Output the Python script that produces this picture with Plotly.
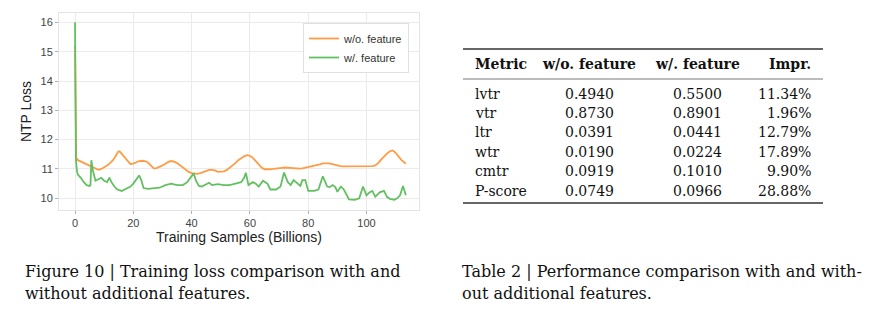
import plotly.graph_objects as go

W, H = 893, 323

# Training loss curves (x in billions of samples)
wo_x = [0, 0.4, 1, 2, 3, 4, 5, 6, 7, 8, 9, 10, 11, 12, 13, 14, 14.7, 15.3, 16, 17, 18, 19, 20, 21, 22, 23,
        24, 25, 26, 27, 28, 29, 30, 31, 32, 33, 34, 35, 36, 37, 38, 39, 40, 41, 42, 43, 44, 45, 46, 47, 48,
        49, 50, 51, 52, 53, 54, 55, 56, 57, 58, 59, 60, 61, 62, 63, 64, 65, 66, 67, 68, 69, 70, 71, 72,
        73, 74, 75, 76, 77, 78, 79, 80, 81, 82, 83, 84, 85, 86, 87, 88, 89, 90, 91, 92, 93, 94, 95, 96,
        97, 98, 99, 100, 101, 102, 103, 104, 105, 106, 107, 108, 109, 110, 111, 112, 113, 113.5]
wo_y = [15.2, 11.38, 11.3, 11.25, 11.2, 11.15, 11.1, 11.05, 11.0, 10.97, 11.0, 11.05, 11.12, 11.2, 11.3,
        11.45, 11.58, 11.6, 11.52, 11.4, 11.28, 11.17, 11.18, 11.24, 11.27, 11.28, 11.27, 11.22, 11.12,
        11.02, 11.03, 11.07, 11.12, 11.18, 11.24, 11.27, 11.25, 11.2, 11.12, 11.03, 10.97, 10.9, 10.86,
        10.84, 10.83, 10.86, 10.9, 10.95, 10.97, 10.97, 10.95, 10.9, 10.9, 10.92, 10.96, 11.03, 11.12,
        11.2, 11.3, 11.37, 11.43, 11.47, 11.45, 11.38, 11.28, 11.17, 11.05, 10.99, 10.98, 10.99, 11.0,
        11.02, 11.03, 11.04, 11.05, 11.04, 11.03, 11.02, 11.01, 11.01, 11.02, 11.04, 11.07, 11.1, 11.12,
        11.13, 11.16, 11.19, 11.2, 11.19, 11.17, 11.14, 11.12, 11.1, 11.09, 11.09, 11.08, 11.09, 11.1,
        11.09, 11.08, 11.08, 11.08, 11.09, 11.1, 11.12, 11.2, 11.32, 11.43, 11.52, 11.6, 11.63, 11.55,
        11.42, 11.3, 11.22, 11.18]

wf_x = [0, 0.3, 0.7, 1, 2, 3, 4, 5, 5.3, 5.6, 6, 6.5, 7, 8, 9, 10, 11, 11.8, 12.5, 13.5, 14.5, 16, 17,
        18, 19, 20, 21, 22, 22.8, 23.5, 25, 27, 29, 31, 33, 35, 37, 38.5, 39.5, 40.7, 41.5, 42.5, 43.5,
        45, 46, 47, 49, 51, 53, 55, 57, 58, 58.6, 59.5, 61, 62, 63, 64.5, 66, 67, 69, 70.5, 71.7, 73,
        74, 75, 76.5, 77.3, 78, 79, 80, 82, 83.5, 85, 86.5, 87.4, 88.3, 89.3, 90, 91.2, 92.2, 93.2, 94,
        96, 97.5, 98.8, 100, 101, 102, 103, 104.5, 106, 107, 108, 109.5, 110.5, 111.5, 112.5, 113.5]
wf_y = [16.0, 11.3, 10.9, 10.8, 10.7, 10.55, 10.45, 10.42, 10.45, 11.3, 11.0, 10.75, 10.6, 10.65, 10.7,
        10.6, 10.55, 10.7, 10.55, 10.4, 10.3, 10.25, 10.3, 10.35, 10.4, 10.5, 10.65, 10.78, 10.6, 10.35,
        10.32, 10.35, 10.36, 10.45, 10.5, 10.45, 10.45, 10.55, 10.68, 10.85, 10.6, 10.42, 10.4, 10.47,
        10.53, 10.45, 10.48, 10.45, 10.45, 10.5, 10.55, 10.7, 10.87, 10.45, 10.55, 10.5, 10.4, 10.6,
        10.5, 10.3, 10.3, 10.4, 10.88, 10.55, 10.45, 10.62, 10.5, 10.42, 10.62, 10.62, 10.25, 10.25,
        10.3, 10.75, 10.4, 10.38, 10.45, 10.38, 10.22, 10.4, 10.3, 10.1, 9.96, 9.95, 10.0, 10.4, 10.1,
        10.2, 10.25, 10.05, 10.2, 10.25, 10.05, 9.98, 9.95, 10.0, 10.1, 10.42, 10.1]

x_ticks = [0, 20, 40, 60, 80, 100]
y_ticks = [10, 11, 12, 13, 14, 15, 16]

# Table contents
metrics = ["lvtr", "vtr", "ltr", "wtr", "cmtr", "P-score"]
wo_vals = ["0.4940", "0.8730", "0.0391", "0.0190", "0.0919", "0.0749"]
wf_vals = ["0.5500", "0.8901", "0.0441", "0.0224", "0.1010", "0.0966"]
impr = ["11.34%", "1.96%", "12.79%", "17.89%", "9.90%", "28.88%"]
headers = ["Metric", "w/o. feature", "w/. feature", "Impr."]


def px(x):
    return x / W


def py(y):
    return 1 - y / H


ORANGE = "#ff9c45"
GREEN = "#62c062"

fig = go.Figure()
fig.add_trace(go.Scatter(x=wo_x, y=wo_y, name="w/o. feature", mode="lines",
                         line=dict(color=ORANGE, width=1.8)))
fig.add_trace(go.Scatter(x=wf_x, y=wf_y, name="w/. feature", mode="lines",
                         line=dict(color=GREEN, width=1.8)))

SANS = "Liberation Sans, Arial, sans-serif"
SERIF = "DejaVu Serif, serif"
GRID = "#ebebeb"

fig.update_layout(
    width=W, height=H,
    margin=dict(l=0, r=0, t=0, b=0),
    paper_bgcolor="white", plot_bgcolor="white",
    font=dict(family=SANS, color="#333333"),
    xaxis=dict(domain=[px(59), px(419)], range=[-5.5, 118], tickvals=x_ticks,
               showgrid=True, gridcolor=GRID, gridwidth=1, zeroline=False,
               showline=True, linecolor="#e3e3e3", mirror=True,
               ticks="outside", ticklen=3, tickcolor="#b0b0b0",
               tickfont=dict(size=11, color="#444444"),
               title=dict(text="Training Samples (Billions)", font=dict(size=14, color="#222222"),
                          standoff=1)),
    yaxis=dict(domain=[py(210), py(13)], range=[9.6, 16.32], tickvals=y_ticks,
               showgrid=True, gridcolor=GRID, gridwidth=1, zeroline=False,
               showline=True, linecolor="#e3e3e3", mirror=True,
               ticks="outside", ticklen=3, tickcolor="#b0b0b0",
               tickfont=dict(size=11, color="#444444"),
               title=dict(text="NTP Loss", font=dict(size=14, color="#222222"), standoff=5)),
    legend=dict(x=px(303), y=py(23), xanchor="left", yanchor="top",
                bgcolor="white", bordercolor="#e0e0e0", borderwidth=1,
                font=dict(size=11, color="#333333"), itemwidth=30,
                tracegroupgap=0),
    showlegend=True,
)

# Table rules
shapes = [
    dict(type="line", xref="paper", yref="paper", x0=px(463), x1=px(823), y0=py(49), y1=py(49),
         line=dict(color="#333333", width=1.4)),
    dict(type="line", xref="paper", yref="paper", x0=px(463), x1=px(823), y0=py(79), y1=py(79),
         line=dict(color="#555555", width=0.8)),
    dict(type="line", xref="paper", yref="paper", x0=px(463), x1=px(823), y0=py(203), y1=py(203),
         line=dict(color="#333333", width=1.4)),
]
fig.update_layout(shapes=shapes)

TFONT = 14
col_x = [(473, "left"), (589, "center"), (697, "center"), (813, "right")]
anns = []
for (cx, al), htxt in zip(col_x, headers):
    anns.append(dict(x=px(cx), y=py(64), xref="paper", yref="paper", text="<b>" + htxt + "</b>",
                     showarrow=False, xanchor=al, yanchor="middle",
                     font=dict(family=SERIF, size=TFONT, color="#111111")))
row_y0, row_dy = 93.5, 19.4
for i, row in enumerate(zip(metrics, wo_vals, wf_vals, impr)):
    yy = row_y0 + i * row_dy
    for (cx, al), val in zip(col_x, row):
        anns.append(dict(x=px(cx), y=py(yy), xref="paper", yref="paper", text=val,
                         showarrow=False, xanchor=al, yanchor="middle",
                         font=dict(family=SERIF, size=TFONT, color="#111111")))

CAP = 16
captions = [
    (23, 271, "Figure 10 | Training loss comparison with and"),
    (23, 293, "without additional features."),
    (460, 271, "Table 2 | Performance comparison with and with-"),
    (460, 293, "out additional features."),
]
for cx, cy, txt in captions:
    anns.append(dict(x=px(cx), y=py(cy), xref="paper", yref="paper", text=txt,
                     showarrow=False, xanchor="left", yanchor="middle",
                     font=dict(family=SERIF, size=CAP, color="#111111")))
fig.update_layout(annotations=anns)

fig.write_html("out.html")
